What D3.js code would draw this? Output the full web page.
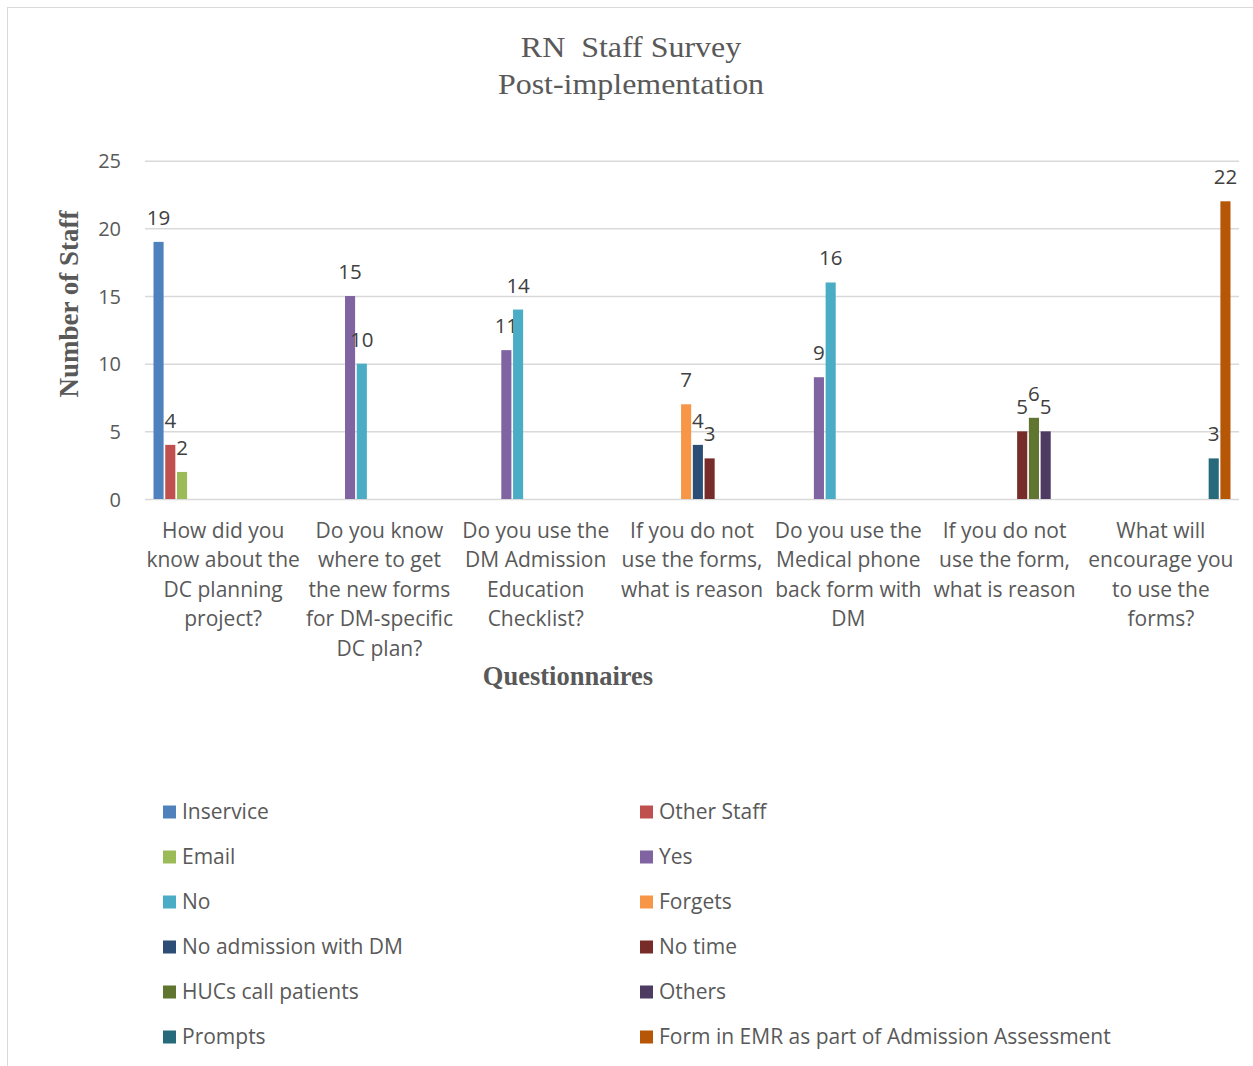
<!DOCTYPE html>
<html>
<head>
<meta charset="utf-8">
<script src="https://cdn.jsdelivr.net/npm/d3@7"></script>
<style>
  body { margin: 0; background: #fff; }
  text { fill: #595959; }
</style>
</head>
<body>
<div id="chart"></div>
<script>
// questions on the x axis (one entry per wrapped line)
var categories = [
    ["How did you", "know about the", "DC planning", "project?"],
    ["Do you know", "where to get", "the new forms", "for DM-specific", "DC plan?"],
    ["Do you use the", "DM Admission", "Education", "Checklist?"],
    ["If you do not", "use the forms,", "what is reason"],
    ["Do you use the", "Medical phone", "back form with", "DM"],
    ["If you do not", "use the form,", "what is reason"],
    ["What will", "encourage you", "to use the", "forms?"]
];

var seriesNames = ["Inservice", "Other Staff", "Email", "Yes", "No", "Forgets",
    "No admission with DM", "No time", "HUCs call patients", "Others", "Prompts",
    "Form in EMR as part of Admission Assessment"];

var seriesColors = ["#4f81bd", "#c0504d", "#9bbb59", "#8064a2", "#4bacc6", "#f79646",
    "#2c4d75", "#772c2a", "#5f7530", "#4d3b62", "#276a7c", "#b65708"];

// one row per series, one column per question (null = no bar)
var values = [
    [19, null, null, null, null, null, null],
    [4, null, null, null, null, null, null],
    [2, null, null, null, null, null, null],
    [null, 15, 11, null, 9, null, null],
    [null, 10, 14, null, 16, null, null],
    [null, null, null, 7, null, null, null],
    [null, null, null, 4, null, null, null],
    [null, null, null, 3, null, 5, null],
    [null, null, null, null, null, 6, null],
    [null, null, null, null, null, 5, null],
    [null, null, null, null, null, null, 3],
    [null, null, null, null, null, null, 22]
];

var yTicks = [0, 5, 10, 15, 20, 25];

var width = 1253, height = 1066;
var sans = "Open Sans, sans-serif", serif = "Liberation Serif, serif";

var svg = d3.select("#chart")
    .append("svg")
    .attr("width", width)
    .attr("height", height);

// outer frame
svg.append("rect")
    .attr("x", 7.5).attr("y", 7.5)
    .attr("width", width).attr("height", height)
    .attr("fill", "none")
    .attr("stroke", "#d9d9d9")
    .attr("stroke-width", 1);

var x = d3.scaleBand()
    .domain(d3.range(categories.length))
    .range([145, 1239])
    .padding(0);

var xs = d3.scaleBand()
    .domain(d3.range(seriesNames.length))
    .range([8.5, x.bandwidth() - 8.5])
    .paddingInner(0.14);

var y = d3.scaleLinear()
    .domain([0, 25])
    .range([499, 160.7]);

// title (slightly wide serif, as in the original)
var title = svg.append("g")
    .attr("transform", "translate(631,0) scale(1.065,1)");

title.append("text")
    .attr("x", 0).attr("y", 57)
    .attr("text-anchor", "middle")
    .attr("font-family", serif)
    .attr("font-size", 30)
    .attr("xml:space", "preserve")
    .text("RN  Staff Survey");

title.append("text")
    .attr("x", 0).attr("y", 94)
    .attr("text-anchor", "middle")
    .attr("font-family", serif)
    .attr("font-size", 30)
    .text("Post-implementation");

// gridlines
var yAxis = d3.axisLeft(y)
    .tickValues(yTicks)
    .tickSize(-(1239 - 145))
    .tickPadding(24);

var gy = svg.append("g")
    .attr("transform", "translate(145,0)")
    .call(yAxis);
gy.select(".domain").remove();
gy.selectAll(".tick line")
    .attr("stroke", "#d9d9d9")
    .attr("stroke-width", 1.5);
gy.selectAll(".tick text")
    .attr("font-family", sans)
    .attr("font-size", 20)
    .attr("dy", "0.35em");

// y axis title
svg.append("text")
    .attr("transform", "translate(78,304) rotate(-90)")
    .attr("text-anchor", "middle")
    .attr("font-family", serif)
    .attr("font-weight", "bold")
    .attr("font-size", 27)
    .text("Number of Staff");

// bars
var bars = [];
values.forEach(function (row, s) {
    row.forEach(function (v, c) {
        if (v !== null) bars.push({ s: s, c: c, v: v });
    });
});

var node = svg.selectAll(".bar")
    .data(bars)
    .enter()
    .append("g")
    .attr("class", "bar")
    .attr("transform", function (d) {
        return "translate(" + (x(d.c) + xs(d.s)) + ",0)";
    });

node.append("rect")
    .attr("x", 0)
    .attr("y", function (d) { return y(d.v); })
    .attr("width", xs.bandwidth())
    .attr("height", function (d) { return y(0) - y(d.v); })
    .attr("fill", function (d) { return seriesColors[d.s]; });

node.append("text")
    .attr("x", xs.bandwidth() / 2)
    .attr("y", function (d) { return y(d.v) - 17; })
    .attr("text-anchor", "middle")
    .attr("font-family", sans)
    .attr("font-size", 20.5)
    .style("fill", "#404040")
    .text(function (d) { return d.v; });

// category labels
var cat = svg.selectAll(".cat")
    .data(categories)
    .enter()
    .append("text")
    .attr("class", "cat")
    .attr("text-anchor", "middle")
    .attr("font-family", sans)
    .attr("font-size", 21);

cat.selectAll("tspan")
    .data(function (d, i) {
        return d.map(function (line) { return { line: line, i: i }; });
    })
    .enter()
    .append("tspan")
    .attr("x", function (d) { return x(d.i) + x.bandwidth() / 2; })
    .attr("y", function (d, j) { return 537.5 + j * 29.5; })
    .text(function (d) { return d.line; });

// x axis title
svg.append("text")
    .attr("x", 568).attr("y", 685)
    .attr("text-anchor", "middle")
    .attr("font-family", serif)
    .attr("font-weight", "bold")
    .attr("font-size", 26.5)
    .text("Questionnaires");

// legend, two columns
var legendCol = [163, 640];
var legend = svg.selectAll(".legend")
    .data(seriesNames)
    .enter()
    .append("g")
    .attr("class", "legend")
    .attr("transform", function (d, i) {
        return "translate(" + legendCol[i % 2] + "," + (812 + Math.floor(i / 2) * 45) + ")";
    });

legend.append("rect")
    .attr("x", 0).attr("y", -6.5)
    .attr("width", 13).attr("height", 13)
    .attr("fill", function (d, i) { return seriesColors[i]; });

legend.append("text")
    .attr("x", 19)
    .attr("y", 0)
    .attr("dy", "0.35em")
    .attr("font-family", sans)
    .attr("font-size", 21)
    .text(function (d) { return d; });
</script>
</body>
</html>
